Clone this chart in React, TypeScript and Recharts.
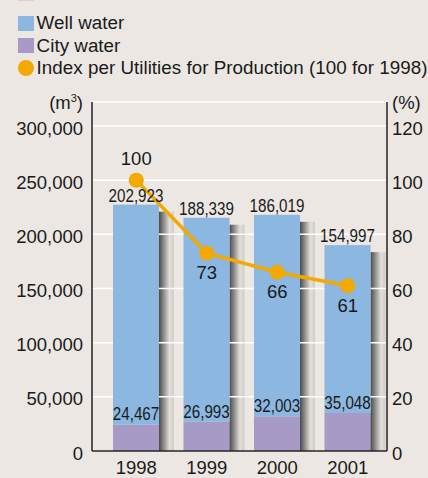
import React from "react";
import {
  ComposedChart,
  Bar,
  Line,
  XAxis,
  YAxis,
  CartesianGrid,
  LabelList,
} from "recharts";

const years = ["1998", "1999", "2000", "2001"];
const wellWater = [202923, 188339, 186019, 154997];
const cityWater = [24467, 26993, 32003, 35048];
const utilityIndex = [100, 73, 66, 61];
const leftTicks = [0, 50000, 100000, 150000, 200000, 250000, 300000];
const rightTicks = [0, 20, 40, 60, 80, 100, 120];

const data = years.map((year, i) => ({
  year,
  well: wellWater[i],
  city: cityWater[i],
  index: utilityIndex[i],
}));

// axis lines run a bit above the top tick, so stretch the domains to match
const STRETCH = 349 / 325;
const LEFT_MAX = 300000 * STRETCH;
const RIGHT_MAX = 120 * STRETCH;

const BG = "#ece7e3";
const BLUE = "#8bb7e1";
const PURPLE = "#a89ac6";
const ORANGE = "#f2a900";
const INK = "#1a1a1a";
const FONT = "'Liberation Sans', Arial, Helvetica, sans-serif";
const SHADOW_W = 15;

const fmt = (v: number) => v.toLocaleString("en-US");

function ShadowedBar(props: any) {
  const { x, y, width, height, fill, background } = props;
  const top = background ? background.y : 102;
  const bottom = background ? background.y + background.height : 451;
  const sx = x + width;
  const sTop = y + 7;
  const gridYs = leftTicks
    .filter((t) => t > 0)
    .map((t) => bottom - (t / LEFT_MAX) * (bottom - top))
    .filter((gy) => gy > sTop);
  return (
    <g>
      <rect x={sx} y={sTop} width={SHADOW_W} height={bottom - sTop} fill="url(#barShadow)" />
      {gridYs.map((gy) => (
        <line key={gy} x1={sx} x2={sx + SHADOW_W} y1={gy} y2={gy} stroke="#fff" strokeWidth={1.5} />
      ))}
      <rect x={x} y={y} width={width} height={height} fill={fill} />
    </g>
  );
}

// condensed value labels: text squeezed horizontally like the original print
function narrowLabel(where: "top" | "bottom") {
  return (props: any) => {
    const { x, y, width, height, value } = props;
    const cx = x + width / 2;
    const by = where === "top" ? y - 3 : y + height - 4;
    return (
      <text
        transform={`translate(${cx},${by}) scale(0.8,1)`}
        textAnchor="middle"
        fontSize={19}
        fill={INK}
        fontFamily={FONT}
      >
        {fmt(value)}
      </text>
    );
  };
}

function IndexLabel(props: any) {
  const { x, y, value, index } = props;
  const above = index === 0;
  return (
    <text
      x={x}
      y={above ? y - 15 : y + 26}
      textAnchor="middle"
      fontSize={18.5}
      fill={INK}
      fontFamily={FONT}
    >
      {value}
    </text>
  );
}

const legendRows = [
  { label: "Well water", color: BLUE, round: false },
  { label: "City water", color: PURPLE, round: false },
  { label: "Index per Utilities for Production (100 for 1998)", color: ORANGE, round: true },
];

export default function App() {
  return (
    <div
      style={{
        position: "absolute",
        left: 0,
        top: 0,
        width: 428,
        height: 478,
        background: BG,
        fontFamily: FONT,
        color: INK,
        overflow: "hidden",
      }}
    >
      {/* cropped row of an earlier legend block */}
      <div style={{ position: "absolute", left: 18, top: -14, width: 16, height: 15, background: "#d6d2ce" }} />

      {legendRows.map((row, i) => (
        <div
          key={row.label}
          style={{
            position: "absolute",
            left: 18,
            top: 12.3 + i * 22.5,
            display: "flex",
            alignItems: "flex-start",
            fontSize: 18.8,
            letterSpacing: "0.03px",
            lineHeight: "22.5px",
            whiteSpace: "nowrap",
          }}
        >
          <span
            style={{
              display: "inline-block",
              width: 16,
              height: row.round ? 16 : 15,
              marginTop: row.round ? 3.2 : 3.4,
              marginRight: 2.6,
              background: row.color,
              borderRadius: row.round ? "50%" : 0,
            }}
          />
          <span>{row.label}</span>
        </div>
      ))}

      <div
        style={{
          position: "absolute",
          right: 428 - 83,
          top: 92.4,
          fontSize: 18.5,
          lineHeight: "22.5px",
          whiteSpace: "nowrap",
        }}
      >
        (m<sup style={{ fontSize: 11, verticalAlign: "7px", lineHeight: 0 }}>3</sup>)
      </div>
      <div
        style={{
          position: "absolute",
          left: 392,
          top: 92.4,
          fontSize: 18.5,
          lineHeight: "22.5px",
          whiteSpace: "nowrap",
        }}
      >
        (%)
      </div>

      <ComposedChart
        width={428}
        height={478}
        data={data}
        margin={{ top: 102, right: 0, bottom: 0, left: 0 }}
        style={{ position: "absolute", left: 0, top: 0 }}
      >
        <defs>
          <linearGradient id="barShadow" x1="0" y1="0" x2="1" y2="0">
            <stop offset="0%" stopColor="#4a4a4a" />
            <stop offset="30%" stopColor="#8c8a88" />
            <stop offset="70%" stopColor="#e2dfdb" />
            <stop offset="100%" stopColor="#cfcbc7" />
          </linearGradient>
        </defs>
        <CartesianGrid yAxisId="left" vertical={false} stroke="#ffffff" strokeWidth={1.5} />
        <XAxis
          dataKey="year"
          height={27}
          padding={{ left: 9, right: 4 }}
          tickSize={0}
          tickMargin={10}
          axisLine={{ stroke: "#222", strokeWidth: 1.5 }}
          tick={{ fill: INK, fontSize: 18.5 }}
        />
        <YAxis
          yAxisId="left"
          width={92}
          domain={[0, LEFT_MAX]}
          ticks={leftTicks}
          tickFormatter={fmt}
          tickSize={0}
          tickMargin={9}
          axisLine={{ stroke: "#222", strokeWidth: 1.5 }}
          tick={{ fill: INK, fontSize: 18.5, dy: 2 }}
          allowDataOverflow
        />
        <YAxis
          yAxisId="right"
          orientation="right"
          width={41}
          domain={[0, RIGHT_MAX]}
          ticks={rightTicks}
          tickSize={0}
          tickMargin={5}
          axisLine={{ stroke: "#222", strokeWidth: 1.5 }}
          tick={{ fill: INK, fontSize: 18.5, dy: 2, textAnchor: "start" }}
          allowDataOverflow
        />
        <Bar
          yAxisId="left"
          dataKey="city"
          stackId="water"
          fill={PURPLE}
          barSize={46}
          isAnimationActive={false}
        />
        <Bar
          yAxisId="left"
          dataKey="well"
          stackId="water"
          fill={BLUE}
          barSize={46}
          shape={ShadowedBar}
          isAnimationActive={false}
        >
          <LabelList dataKey="well" content={narrowLabel("top")} />
          <LabelList dataKey="city" content={narrowLabel("bottom")} />
        </Bar>
        <Line
          yAxisId="right"
          dataKey="index"
          stroke={ORANGE}
          strokeWidth={3.5}
          dot={{ r: 7.5, fill: ORANGE, stroke: "none" }}
          activeDot={false}
          isAnimationActive={false}
        >
          <LabelList dataKey="index" content={IndexLabel} />
        </Line>
      </ComposedChart>
    </div>
  );
}
